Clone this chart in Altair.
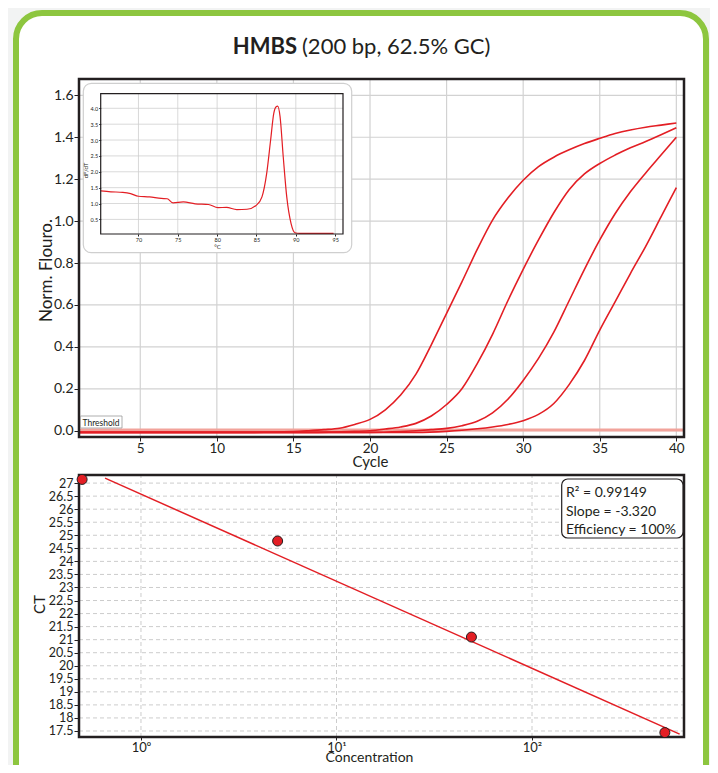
import altair as alt
import pandas as pd

# ---------------- data ----------------
title_bold = "HMBS"
title_rest = "(200 bp, 62.5% GC)"

cycle_ticks = [5, 10, 15, 20, 25, 30, 35, 40]
fluor_ticks = [0.0, 0.2, 0.4, 0.6, 0.8, 1.0, 1.2, 1.4, 1.6]
threshold_value = 0.003

c1_cycle = [1, 12, 15, 16, 17, 18, 19, 20, 21, 22, 23, 24, 25, 26, 27, 28, 29, 30, 31, 32, 33, 34, 35,
            36, 37, 38, 39, 40]
c1_value = [-0.008, -0.008, -0.004, 0.0, 0.005, 0.012, 0.03, 0.054, 0.10, 0.17, 0.27, 0.41, 0.56, 0.71,
            0.865, 1.005, 1.11, 1.195, 1.26, 1.305, 1.34, 1.37, 1.395, 1.418, 1.435, 1.448, 1.458, 1.468]
c2_cycle = [1, 16, 19, 20, 21, 22, 23, 24, 25, 26, 27, 28, 29, 30, 31, 32, 33, 34, 35, 36, 37, 38, 39, 40]
c2_value = [-0.008, -0.008, -0.003, 0.0, 0.008, 0.018, 0.035, 0.07, 0.125, 0.20, 0.32, 0.46, 0.62, 0.77,
            0.91, 1.04, 1.15, 1.225, 1.275, 1.315, 1.35, 1.38, 1.412, 1.445]
c3_cycle = [1, 20, 22, 23, 24, 25, 26, 27, 28, 29, 30, 31, 32, 33, 34, 35, 36, 37, 38, 39, 40]
c3_value = [-0.008, -0.008, -0.004, 0.0, 0.005, 0.011, 0.024, 0.045, 0.085, 0.15, 0.24, 0.345, 0.47,
            0.62, 0.77, 0.91, 1.035, 1.14, 1.23, 1.315, 1.40]
c4_cycle = [1, 23, 25, 26, 27, 28, 29, 30, 31, 32, 33, 34, 35, 36, 37, 38, 39, 40]
c4_value = [-0.008, -0.008, -0.003, 0.002, 0.009, 0.018, 0.03, 0.048, 0.078, 0.13, 0.22, 0.335, 0.48,
            0.615, 0.75, 0.88, 1.02, 1.16]

melt_temp = [65.2, 66.5, 68.0, 69.0, 70.0, 71.4, 72.9, 73.65, 74.4, 75.7, 77.2, 78.9, 80.1, 81.2, 82.5,
             83.8, 85.0, 85.7, 86.3, 86.8, 87.2, 87.5, 87.7, 88.0, 88.4, 88.85, 89.4, 89.9, 90.5, 94.8]
melt_dfdt = [1.40, 1.37, 1.35, 1.31, 1.23, 1.21, 1.16, 1.15, 1.02, 1.05, 0.99, 0.97, 0.87, 0.88, 0.81,
             0.82, 0.95, 1.21, 1.95, 3.0, 3.84, 4.05, 4.07, 3.74, 2.48, 1.21, 0.37, 0.08, 0.06, 0.06]
temp_ticks = [70, 75, 80, 85, 90, 95]
dfdt_ticks = [0.5, 1.0, 1.5, 2.0, 2.5, 3.0, 3.5, 4.0]

conc = [0.5, 5, 49, 478]
ct = [27.14, 24.78, 21.1, 17.44]
fit_conc = [0.655, 569]
fit_ct = [27.19, 17.38]
conc_ticks = [1, 10, 100]
ct_ticks = [17.5, 18, 18.5, 19, 19.5, 20, 20.5, 21, 21.5, 22, 22.5, 23, 23.5, 24, 24.5, 25, 25.5, 26,
            26.5, 27]
legend_lines = ["R\u00b2 = 0.99149", "Slope = -3.320", "Efficiency = 100%"]

# ---------------- style ----------------
W, H = 702, 757
FONT = "Lato"
INK = "#231f20"
RED = "#e31e24"
GRID = "#d2d2d2"


def one_row():
    return pd.DataFrame({"k": [0]})


def deco_rect(x, x2, y, y2, **kw):
    return alt.Chart(one_row()).mark_rect(**kw).encode(
        x=alt.value(x), x2=alt.value(x2), y=alt.value(y), y2=alt.value(y2))


def deco_text(txt, x, y, **kw):
    return alt.Chart(one_row()).mark_text(text=txt, font=FONT, color=INK, **kw).encode(
        x=alt.value(x), y=alt.value(y))


def ax(**kw):
    base = dict(zindex=2, domain=False, grid=False, labelFont=FONT, titleFont=FONT,
                labelColor=INK, titleColor=INK, tickColor=INK, titleFontWeight="normal",
                titleBaseline="middle", titleAlign="center")
    base.update(kw)
    return alt.Axis(**base)


outer = deco_rect(8, 698, 5, 790, fill="white", stroke="#8dc63f", strokeWidth=6, cornerRadius=26)
t1 = deco_text(title_bold, 289, 39, fontSize=22, fontWeight="bold", align="right", baseline="middle")
t2 = deco_text(title_rest, 294, 39, fontSize=22, align="left", baseline="middle")

# ---------------- top amplification plot ----------------
xa_dom = [1, 40.5]
ya_dom = [-0.03, 1.678]


def xA():
    return alt.Scale(domain=xa_dom, range=[71, 676], nice=False, zero=False)


def yA():
    return alt.Scale(domain=ya_dom, range=[429, 71], nice=False, zero=False)


gvA = alt.Chart(pd.DataFrame({"c": cycle_ticks})).mark_rule(color=GRID, strokeWidth=1.2).encode(
    x=alt.X("c:Q", scale=xA(), axis=None),
    y=alt.Y(datum=ya_dom[0], scale=yA(), axis=None), y2=alt.Y2(datum=ya_dom[1]))
ghA = alt.Chart(pd.DataFrame({"v": fluor_ticks})).mark_rule(color=GRID, strokeWidth=1.2).encode(
    y=alt.Y("v:Q", scale=yA(), axis=None),
    x=alt.X(datum=xa_dom[0], scale=xA(), axis=None), x2=alt.X2(datum=xa_dom[1]))
thrA = alt.Chart(pd.DataFrame({"v": [threshold_value]})).mark_rule(color="#f2a39b", strokeWidth=3).encode(
    y=alt.Y("v:Q", scale=yA(), axis=None),
    x=alt.X(datum=xa_dom[0], scale=xA(), axis=None), x2=alt.X2(datum=xa_dom[1]))

rows = []
for name, cs, vs in [("s1", c1_cycle, c1_value), ("s2", c2_cycle, c2_value),
                     ("s3", c3_cycle, c3_value), ("s4", c4_cycle, c4_value)]:
    for c, v in zip(cs, vs):
        rows.append({"series": name, "cycle": c, "value": v})
amp = pd.DataFrame(rows)

curvesA = alt.Chart(amp).mark_line(color=RED, strokeWidth=1.6, interpolate="monotone").encode(
    x=alt.X("cycle:Q", scale=xA(), axis=ax(
        orient="bottom", offset=429 - H, values=cycle_ticks, labelFontSize=13.5, tickSize=4,
        labelPadding=0, title="Cycle", titleFontSize=15, titleX=362, titleY=29.5,
        titleBaseline="alphabetic")),
    y=alt.Y("value:Q", scale=yA(), axis=ax(
        orient="left", offset=-71, values=fluor_ticks, format=".1f", labelFontSize=14, tickSize=5,
        labelPadding=1, title="Norm. Flouro.", titleFontSize=17, titleX=-33, titleY=262,
        titleAngle=270)),
    detail="series:N")
frameA = alt.Chart(one_row()).mark_rect(filled=False, stroke=INK, strokeWidth=2.5).encode(
    x=alt.X(datum=xa_dom[0], scale=xA(), axis=None), x2=alt.X2(datum=xa_dom[1]),
    y=alt.Y(datum=ya_dom[0], scale=yA(), axis=None), y2=alt.Y2(datum=ya_dom[1]))

thr_box = deco_rect(72.5, 114, 408, 420, fill="white", stroke="#9a9a9a", strokeWidth=0.8)
thr_txt = deco_text("Threshold", 74.5, 414.5, fontSize=8.5, align="left", baseline="middle")

# ---------------- inset melt curve ----------------
xb_dom = [65.2, 96]
yb_dom = [0.04, 4.46]


def xB():
    return alt.Scale(domain=xb_dom, range=[92.7, 335], nice=False, zero=False)


def yB():
    return alt.Scale(domain=yb_dom, range=[226, 85.7], nice=False, zero=False)


inset_box = deco_rect(75.3, 343.7, 75.3, 244.7, fill="white", stroke="#cfcfcf", strokeWidth=1.2,
                      cornerRadius=8)
gvB = alt.Chart(pd.DataFrame({"t": temp_ticks})).mark_rule(color="#cfcfcf", strokeWidth=0.8).encode(
    x=alt.X("t:Q", scale=xB(), axis=None),
    y=alt.Y(datum=yb_dom[0], scale=yB(), axis=None), y2=alt.Y2(datum=yb_dom[1]))
ghB = alt.Chart(pd.DataFrame({"v": dfdt_ticks})).mark_rule(color="#cfcfcf", strokeWidth=0.8).encode(
    y=alt.Y("v:Q", scale=yB(), axis=None),
    x=alt.X(datum=xb_dom[0], scale=xB(), axis=None), x2=alt.X2(datum=xb_dom[1]))
meltB = alt.Chart(pd.DataFrame({"t": melt_temp, "d": melt_dfdt})).mark_line(
    color=RED, strokeWidth=1.2, interpolate="monotone").encode(
    x=alt.X("t:Q", scale=xB(), axis=ax(
        orient="bottom", offset=226 - H, values=temp_ticks, labelFontSize=5.5, tickSize=2,
        labelPadding=1, title="\u00b0C", titleFontSize=6, titleX=209, titleY=12.5)),
    y=alt.Y("d:Q", scale=yB(), axis=ax(
        orient="left", offset=-92.7, values=dfdt_ticks, format=".1f", labelFontSize=5.5, tickSize=2,
        labelPadding=1, title="dF/dT", titleFontSize=6, titleX=-15, titleY=162, titleAngle=270)))
frameB = alt.Chart(one_row()).mark_rect(filled=False, stroke=INK, strokeWidth=1.2).encode(
    x=alt.X(datum=xb_dom[0], scale=xB(), axis=None), x2=alt.X2(datum=xb_dom[1]),
    y=alt.Y(datum=yb_dom[0], scale=yB(), axis=None), y2=alt.Y2(datum=yb_dom[1]))

# ---------------- bottom standard curve ----------------
xc_dom = [0.482, 599]
yc_dom = [17.27, 27.31]


def xC():
    return alt.Scale(type="log", domain=xc_dom, range=[71, 676], nice=False)


def yC():
    return alt.Scale(domain=yc_dom, range=[729, 467], nice=False, zero=False)


ghC = alt.Chart(pd.DataFrame({"v": ct_ticks})).mark_rule(color="#cccccc", strokeWidth=1,
                                                          strokeDash=[4, 3]).encode(
    y=alt.Y("v:Q", scale=yC(), axis=None),
    x=alt.X(datum=xc_dom[0], scale=xC(), axis=None), x2=alt.X2(datum=xc_dom[1]))
gvC = alt.Chart(pd.DataFrame({"c": conc_ticks})).mark_rule(color="#cccccc", strokeWidth=1,
                                                            strokeDash=[4, 3]).encode(
    x=alt.X("c:Q", scale=xC(), axis=None),
    y=alt.Y(datum=yc_dom[0], scale=yC(), axis=None), y2=alt.Y2(datum=yc_dom[1]))
fitC = alt.Chart(pd.DataFrame({"c": fit_conc, "ct": fit_ct})).mark_line(color=RED, strokeWidth=1.5).encode(
    x=alt.X("c:Q", scale=xC(), axis=ax(
        orient="bottom", offset=729 - H, values=conc_ticks, labelFontSize=13, tickSize=3,
        labelPadding=1, labelExpr="datum.value == 1 ? '10\u2070' : datum.value == 10 ? '10\u00b9' : '10\u00b2'",
        title="Concentration", titleFontSize=14, titleX=361, titleY=24,
        titleBaseline="alphabetic")),
    y=alt.Y("ct:Q", scale=yC(), axis=ax(
        orient="left", offset=-71, values=ct_ticks, format=".1~f", labelFontSize=12.5, tickSize=5,
        labelPadding=1, labelOverlap=False, title="CT", titleFontSize=15, titleX=-40, titleY=596,
        titleAngle=270)))
frameC = alt.Chart(one_row()).mark_rect(filled=False, stroke=INK, strokeWidth=2.5).encode(
    x=alt.X(datum=xc_dom[0], scale=xC(), axis=None), x2=alt.X2(datum=xc_dom[1]),
    y=alt.Y(datum=yc_dom[0], scale=yC(), axis=None), y2=alt.Y2(datum=yc_dom[1]))
ptsC = alt.Chart(pd.DataFrame({"c": conc, "ct": ct})).mark_circle(
    size=100, color=RED, opacity=1, stroke=INK, strokeWidth=1).encode(
    x=alt.X("c:Q", scale=xC(), axis=None), y=alt.Y("ct:Q", scale=yC(), axis=None))

leg_box = deco_rect(553.7, 675, 471, 530, fill="white", stroke=INK, strokeWidth=1.2, cornerRadius=6)
leg_txt = [deco_text(s, 558, yy, fontSize=14, align="left", baseline="middle")
           for s, yy in zip(legend_lines, [484.7, 503.7, 522])]

chart = alt.layer(
    outer, t1, t2,
    gvA, ghA, thrA, curvesA, frameA, thr_box, thr_txt,
    inset_box, gvB, ghB, meltB, frameB,
    ghC, gvC, fitC, frameC, ptsC, leg_box, *leg_txt
).resolve_scale(x="independent", y="independent").properties(
    width=W, height=H, autosize=alt.AutoSizeParams(type="none"), padding=0, background="#f2f3f3"
).configure_view(stroke="transparent")

chart.save("out.html", embed_options={"renderer": "svg", "actions": False})
